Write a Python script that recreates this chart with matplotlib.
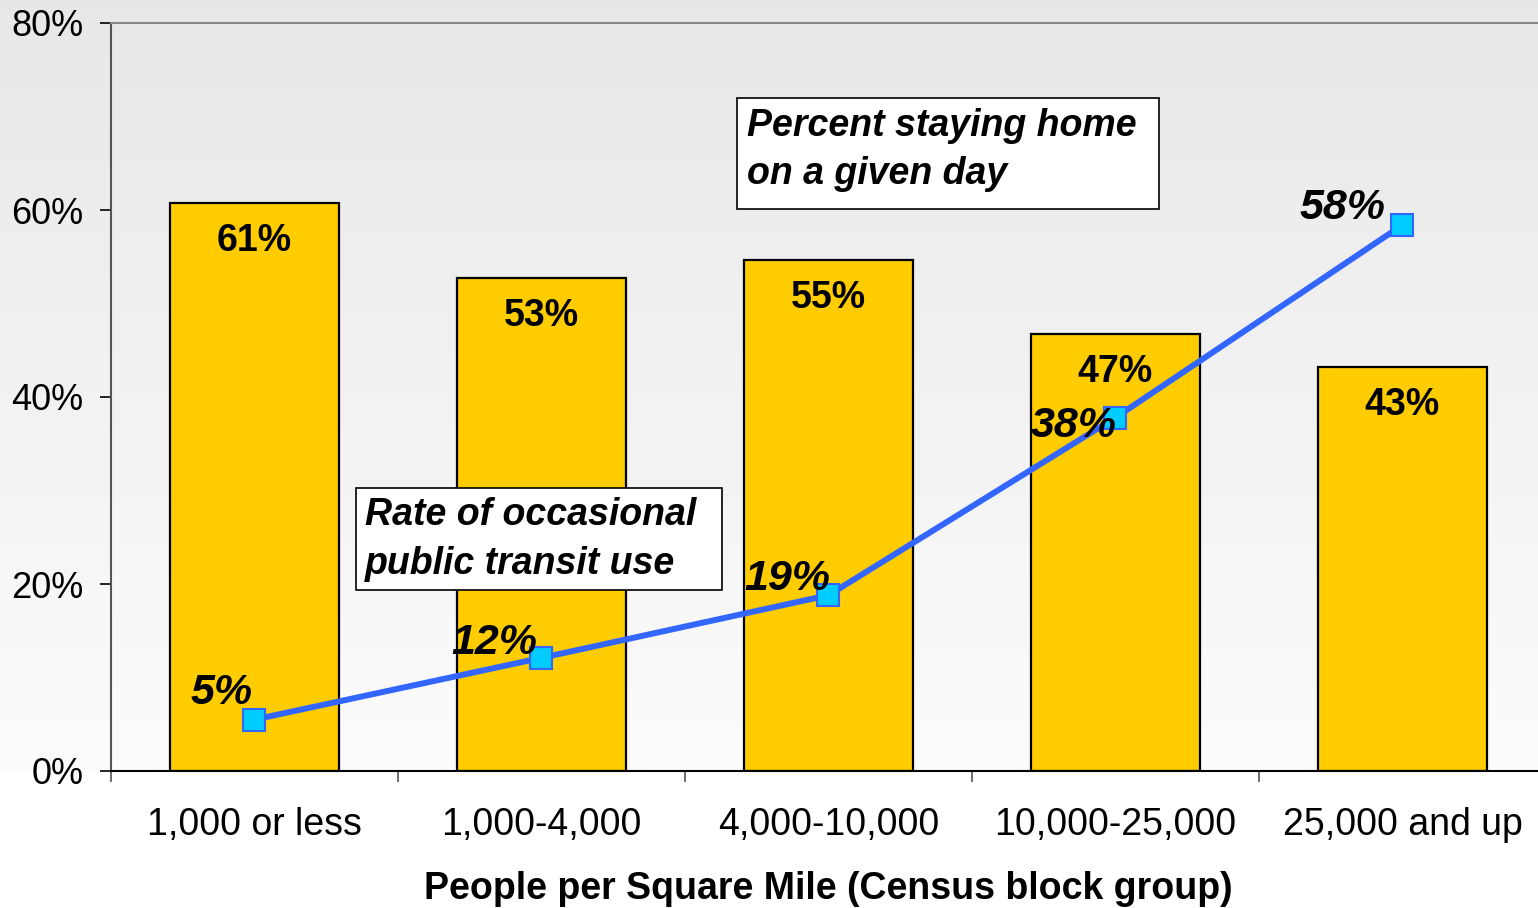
import matplotlib.pyplot as plt
import numpy as np
from matplotlib.patches import Rectangle

# data
categories = ['1,000 or less', '1,000-4,000', '4,000-10,000', '10,000-25,000', '25,000 and up']
home_pct = [60.7, 52.7, 54.6, 46.7, 43.2]      # bars: percent staying home
transit_pct = [5.5, 12.1, 18.8, 37.8, 58.4]    # line: occasional transit use
bar_labels = ['61%', '53%', '55%', '47%', '43%']
line_labels = ['5%', '12%', '19%', '38%', '58%']
y_ticks = [0, 20, 40, 60, 80]

plt.rcParams['font.family'] = ['Liberation Sans', 'DejaVu Sans']

W, H = 1538, 908
fig = plt.figure(figsize=(W / 100, H / 100), dpi=100)
fig.patch.set_facecolor('white')

# background gradient behind the plot area (grey at top to near white)
bg = fig.add_axes([0, (H - 771) / H, 1, 771 / H], zorder=0)
grad = np.linspace(0.905, 0.985, 256).reshape(-1, 1)
bg.imshow(grad, aspect='auto', cmap='gray', vmin=0, vmax=1, extent=[0, 1, 0, 1])
bg.axis('off')

left, right, top, bottom = 111, 1546, 23, 771
ax = fig.add_axes([left / W, (H - bottom) / H, (right - left) / W, (bottom - top) / H], zorder=1)
ax.set_facecolor('none')

x = np.arange(len(categories))
bars = ax.bar(x, home_pct, width=0.59, color='#ffcc00', edgecolor='black', linewidth=1.6, zorder=2)
ax.plot(x, transit_pct, color='#3366ff', linewidth=4.3, marker='s', markersize=16,
        markerfacecolor='#00ccff', markeredgecolor='#3366ff', markeredgewidth=1.5, zorder=3)

# bar value labels, inside near the top
for b, lab in zip(bars, bar_labels):
    ax.annotate(lab, xy=(b.get_x() + b.get_width() / 2, b.get_height()), xytext=(0, -27),
                textcoords='offset points', ha='center', va='center',
                fontsize=27, fontweight='bold', zorder=4)

# line value labels, up-left of each marker (offsets in points)
line_offsets = [(-1, 19), (-3, 11), (1, 12), (1, -6), (-12, 12)]
for xi, yi, lab, off in zip(x, transit_pct, line_labels, line_offsets):
    ax.annotate(lab, xy=(xi, yi), xytext=off, textcoords='offset points',
                ha='right', va='center', fontsize=31, fontweight='bold', style='italic', zorder=4)

# text boxes
ax.add_patch(Rectangle((0.4362, 0.7513), 0.2941, 0.1484, transform=ax.transAxes,
                       facecolor='white', edgecolor='black', linewidth=1.2, zorder=5))
ax.text(0.4432, 0.8870, 'Percent staying home\non a given day', transform=ax.transAxes,
        ha='left', va='top', fontsize=27, fontweight='bold', style='italic',
        linespacing=1.45, zorder=6)
ax.add_patch(Rectangle((0.1707, 0.2420), 0.2551, 0.1363, transform=ax.transAxes,
                       facecolor='white', edgecolor='black', linewidth=1.2, zorder=5))
ax.text(0.1770, 0.3660, 'Rate of occasional\npublic transit use', transform=ax.transAxes,
        ha='left', va='top', fontsize=27, fontweight='bold', style='italic',
        linespacing=1.45, zorder=6)

ax.set_xlim(-0.5, len(categories) - 0.5)
ax.set_ylim(0, 80)
ax.set_yticks(y_ticks)
ax.set_yticklabels([f'{v}%' for v in y_ticks], fontsize=26)
ax.set_xticks(x)
ax.set_xticklabels(categories, fontsize=27)
ax.set_xticks(np.arange(len(categories)) - 0.5, minor=True)
ax.tick_params(axis='x', which='major', length=0, pad=26)
ax.tick_params(axis='x', which='minor', length=8, width=1.2, direction='out', color='#555555')
ax.tick_params(axis='y', length=8, width=1.2, direction='out', pad=12)
ax.set_xlabel('People per Square Mile (Census block group)', fontsize=27, fontweight='bold', labelpad=20)

ax.spines['left'].set_color('#555555')
ax.spines['left'].set_linewidth(1.5)
ax.spines['top'].set_color('#888888')
ax.spines['top'].set_linewidth(1.5)
ax.spines['right'].set_visible(False)
ax.spines['bottom'].set_color('black')
ax.spines['bottom'].set_linewidth(1.5)

fig.savefig('out.png', dpi=100)
